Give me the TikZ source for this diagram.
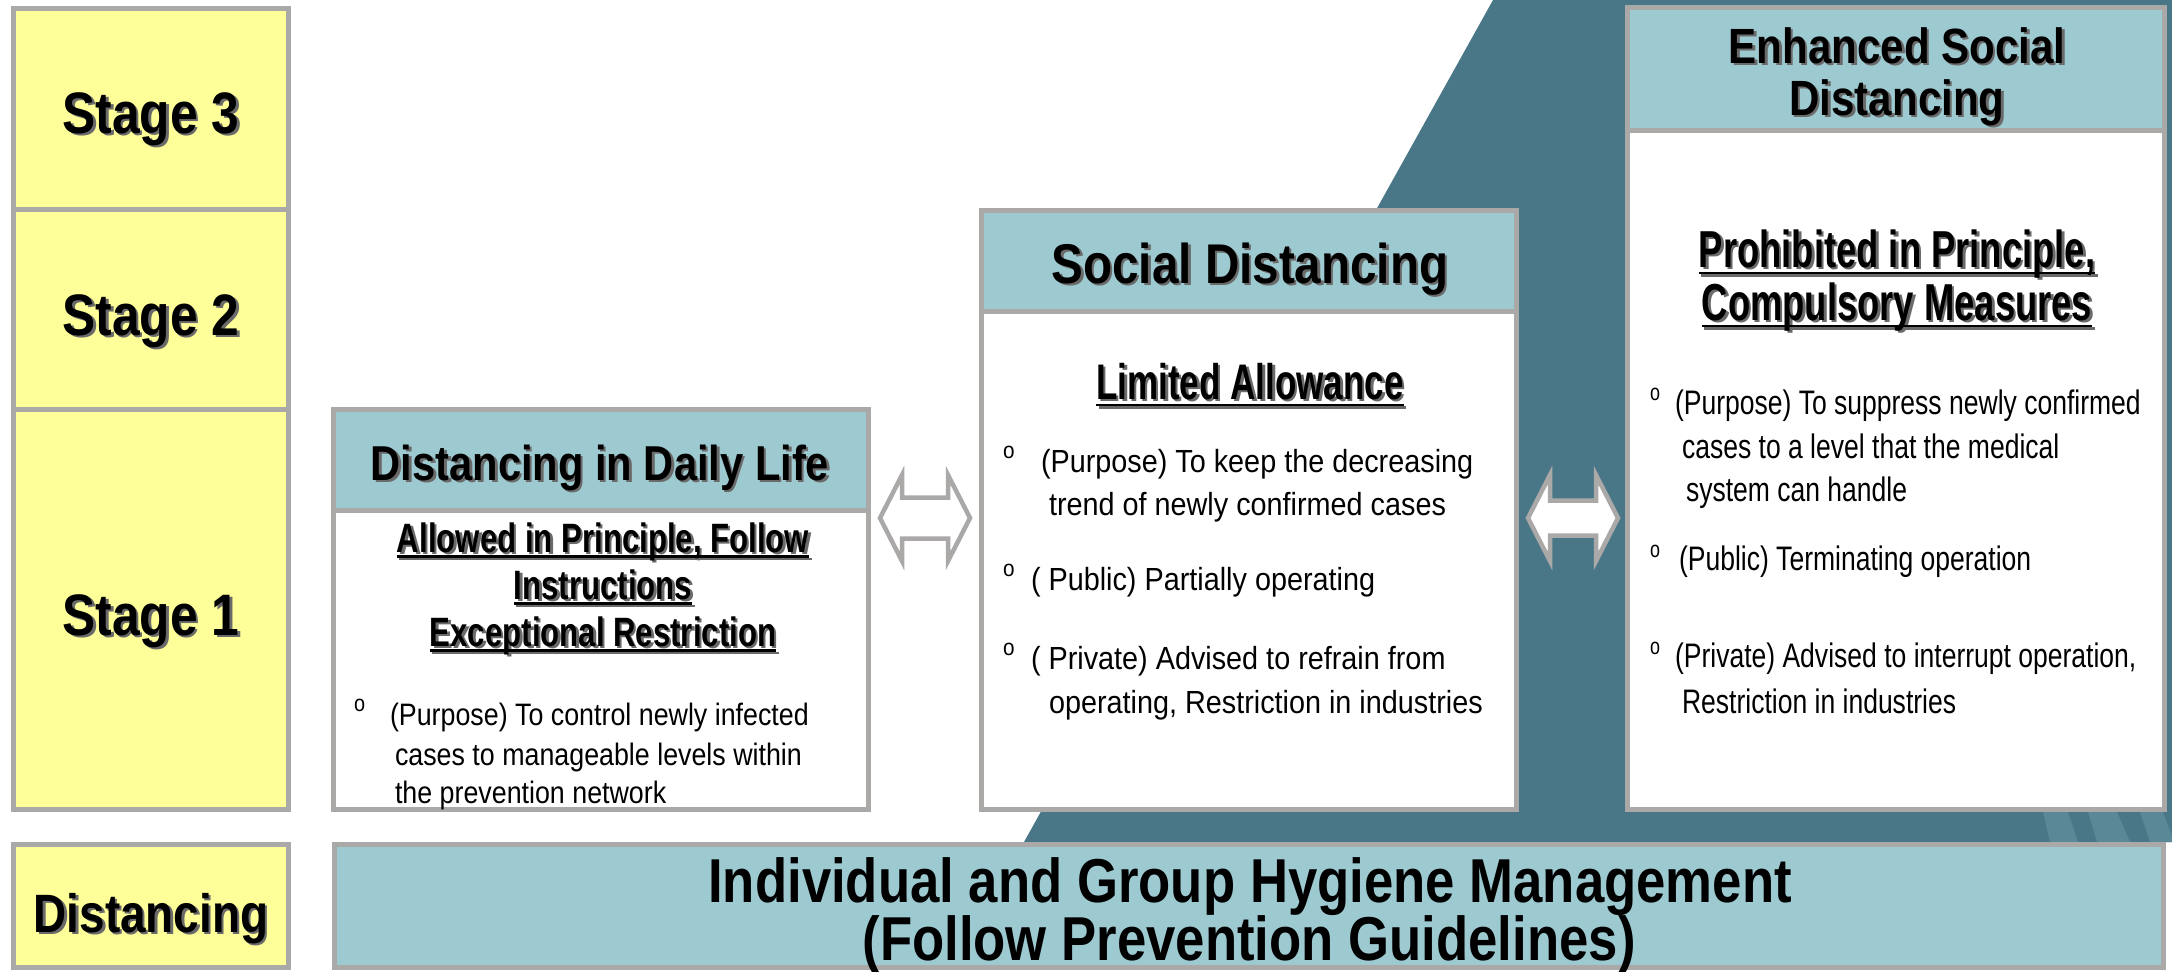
\documentclass[tikz,border=0pt]{standalone}
\usepackage{fontspec}
\setmainfont{Liberation Sans}
\newfontfamily\hdfont[FakeStretch=0.85]{Liberation Sans Bold}
\newfontfamily\btfont[FakeStretch=0.85]{Liberation Sans Bold}
\newfontfamily\subA[FakeStretch=0.76]{Liberation Sans Bold}
\newfontfamily\subB[FakeStretch=0.70]{Liberation Sans Bold}
\newfontfamily\bodyA[FakeStretch=0.865]{Liberation Sans}
\newfontfamily\bodyB[FakeStretch=0.90]{Liberation Sans}
\newfontfamily\bodyC[FakeStretch=0.78]{Liberation Sans}
\definecolor{ylw}{HTML}{FFFF99}
\definecolor{brd}{HTML}{ABA8A8}
\definecolor{hdr}{HTML}{9DCAD1}
\definecolor{darkbg}{HTML}{4A7787}
\definecolor{stripec}{HTML}{5B8896}
\definecolor{shdc}{HTML}{6A6A6A}
\newcommand\shd[1]{\leavevmode\rlap{\kern2.5pt\raisebox{-2.5pt}{\textcolor{shdc}{#1}}}#1}
\newcommand\uln[1]{\setbox0=\hbox{#1}\rlap{\rule[-0.14em]{\wd0}{2.5pt}}\box0}
\newcommand\bul{{\fontsize{23}{23}\selectfont o}}
\tikzset{
  panel/.style={draw=brd, line width=5pt, inner sep=0pt, outer sep=0pt, anchor=north west},
  stagebox/.style={panel, fill=ylw},
  headbox/.style={panel, fill=hdr},
  bodybox/.style={panel, fill=white},
  txt/.style={inner sep=0pt, outer sep=0pt, anchor=base},
  ltxt/.style={inner sep=0pt, outer sep=0pt, anchor=base west},
  blockarrow/.style={draw=brd, line width=4.5pt, fill=white, line join=miter},
  stagefont/.style={font=\hdfont\fontsize{58.5}{60}\selectfont},
  headfont/.style={font=\hdfont\fontsize{#1}{#1}\selectfont},
  ftA/.style={font=\bodyA\fontsize{31}{31}\selectfont},
  ftB/.style={font=\bodyB\fontsize{32}{32}\selectfont},
  ftC/.style={font=\bodyC\fontsize{34}{34}\selectfont},
}
\begin{document}
\begin{tikzpicture}[x=1pt,y=-1pt]
\useasboundingbox (0,0) rectangle (2172,972);
\fill[white] (0,0) rectangle (2172,972);
% dark background
\fill[darkbg] (1493,0) -- (2172,0) -- (2172,842) -- (1024,842) -- cycle;
\fill[stripec] (2043,812) -- (2068,812) -- (2078,842) -- (2050,842) -- cycle;
\fill[stripec] (2088,812) -- (2117,812) -- (2130,842) -- (2097,842) -- cycle;
\fill[stripec] (2140,812) -- (2163,812) -- (2172,836) -- (2172,842) -- (2150,842) -- cycle;

% stage column
\node[stagebox, minimum width=275pt, minimum height=200.5pt] (s3box) at (13.5,8.5) {};
\node[stagebox, minimum width=275pt, minimum height=200pt] (s2box) at (13.5,209) {};
\node[stagebox, minimum width=275pt, minimum height=400.5pt] (s1box) at (13.5,409) {};
\node[stagebox, minimum width=275pt, minimum height=123pt] (sdbox) at (13.5,844.5) {};
\node[txt, stagefont] (s3) at (151,133) {\shd{Stage 3}};
\node[txt, stagefont] (s2) at (151,335) {\shd{Stage 2}};
\node[txt, stagefont] (s1) at (151,635) {\shd{Stage 1}};
\node[txt, headfont=54] (sd) at (151,932) {\shd{Distancing}};

% left panel
\node[bodybox, minimum width=535pt, minimum height=299pt] (lbody) at (333.5,510.5) {};
\node[headbox, minimum width=535pt, minimum height=101pt] (lhead) at (333.5,409.5) {};
\node[txt, headfont=49] (lt) at (600,480) {\shd{Distancing in Daily Life}};
\node[txt, font=\subA\fontsize{41}{41}\selectfont] (ls1) at (603,552) {\shd{\uln{Allowed in Principle, Follow}}};
\node[txt, font=\subA\fontsize{41}{41}\selectfont] (ls2) at (603,599) {\shd{\uln{Instructions}}};
\node[txt, font=\subA\fontsize{41}{41}\selectfont] (ls3) at (603,646) {\shd{\uln{Exceptional Restriction}}};
\node[ltxt, ftA] (lb1) at (354,711) {\bul};
\node[ltxt, ftA] (l1) at (390,725) {(Purpose) To control newly infected};
\node[ltxt, ftA] (l2) at (395,765) {cases to manageable levels within};
\node[ltxt, ftA] (l3) at (395,803) {the prevention network};

% middle panel
\node[bodybox, minimum width=535pt, minimum height=498.5pt] (mbody) at (981.5,311) {};
\node[headbox, minimum width=535pt, minimum height=100.5pt] (mhead) at (981.5,210.5) {};
\node[txt, headfont=56] (mt) at (1250,283) {\shd{Social Distancing}};
\node[txt, font=\subB\fontsize{50}{50}\selectfont] (ms) at (1250,399) {\shd{\uln{Limited Allowance}}};
\node[ltxt, ftB] (mb1) at (1003,458) {\bul};
\node[ltxt, ftB] (m1) at (1041,472) {(Purpose) To keep the decreasing};
\node[ltxt, ftB] (m2) at (1049,515) {trend of newly confirmed cases};
\node[ltxt, ftB] (mb2) at (1003,576) {\bul};
\node[ltxt, ftB] (m3) at (1031,590) {( Public) Partially operating};
\node[ltxt, ftB] (mb3) at (1003,655) {\bul};
\node[ltxt, ftB] (m4) at (1031,669) {( Private) Advised to refrain from};
\node[ltxt, ftB] (m5) at (1049,713) {operating, Restriction in industries};

% right panel
\node[bodybox, minimum width=537pt, minimum height=679pt] (rbody) at (1627.5,130.5) {};
\node[headbox, minimum width=537pt, minimum height=123pt] (rhead) at (1627.5,7.5) {};
\node[txt, headfont=49.5] (rt1) at (1897,63) {\shd{Enhanced Social}};
\node[txt, headfont=49.5] (rt2) at (1897,115) {\shd{Distancing}};
\node[txt, font=\subB\fontsize{52}{52}\selectfont] (rs1) at (1897,267) {\shd{\uln{Prohibited in Principle,}}};
\node[txt, font=\subB\fontsize{52}{52}\selectfont] (rs2) at (1897,320) {\shd{\uln{Compulsory Measures}}};
\node[ltxt, ftC] (rb1) at (1650,400) {\bul};
\node[ltxt, ftC] (r1) at (1675,414) {(Purpose) To suppress newly confirmed};
\node[ltxt, ftC] (r2) at (1682,458) {cases to a level that the medical};
\node[ltxt, ftC] (r3) at (1686,501) {system can handle};
\node[ltxt, ftC] (rb2) at (1650,557) {\bul};
\node[ltxt, ftC] (r4) at (1679,570) {(Public) Terminating operation};
\node[ltxt, ftC] (rb3) at (1650,654) {\bul};
\node[ltxt, ftC] (r5) at (1675,667) {(Private) Advised to interrupt operation,};
\node[ltxt, ftC] (r6) at (1682,713) {Restriction in industries};

% bottom bar
\node[headbox, minimum width=1829pt, minimum height=123pt] (bot) at (334.5,844.5) {};
\node[txt, font=\btfont\fontsize{62}{62}\selectfont] (bt1) at (1250,902) {Individual and Group Hygiene Management};
\node[txt, font=\btfont\fontsize{62}{62}\selectfont] (bt2) at (1249,960) {(Follow Prevention Guidelines)};

% double arrows between panels
\coordinate (la) at (925,518);
\coordinate (ra) at (1573,518);
\draw[blockarrow, shift={(la)}] (-45,0) -- (-23,-43) -- (-23,-20.5) -- (23,-20.5) -- (23,-43) -- (45,0) -- (23,43) -- (23,20.5) -- (-23,20.5) -- (-23,43) -- cycle;
\draw[blockarrow, shift={(ra)}] (-45,0) -- (-23,-43) -- (-23,-17.5) -- (23,-17.5) -- (23,-43) -- (45,0) -- (23,43) -- (23,17.5) -- (-23,17.5) -- (-23,43) -- cycle;
\end{tikzpicture}
\end{document}
